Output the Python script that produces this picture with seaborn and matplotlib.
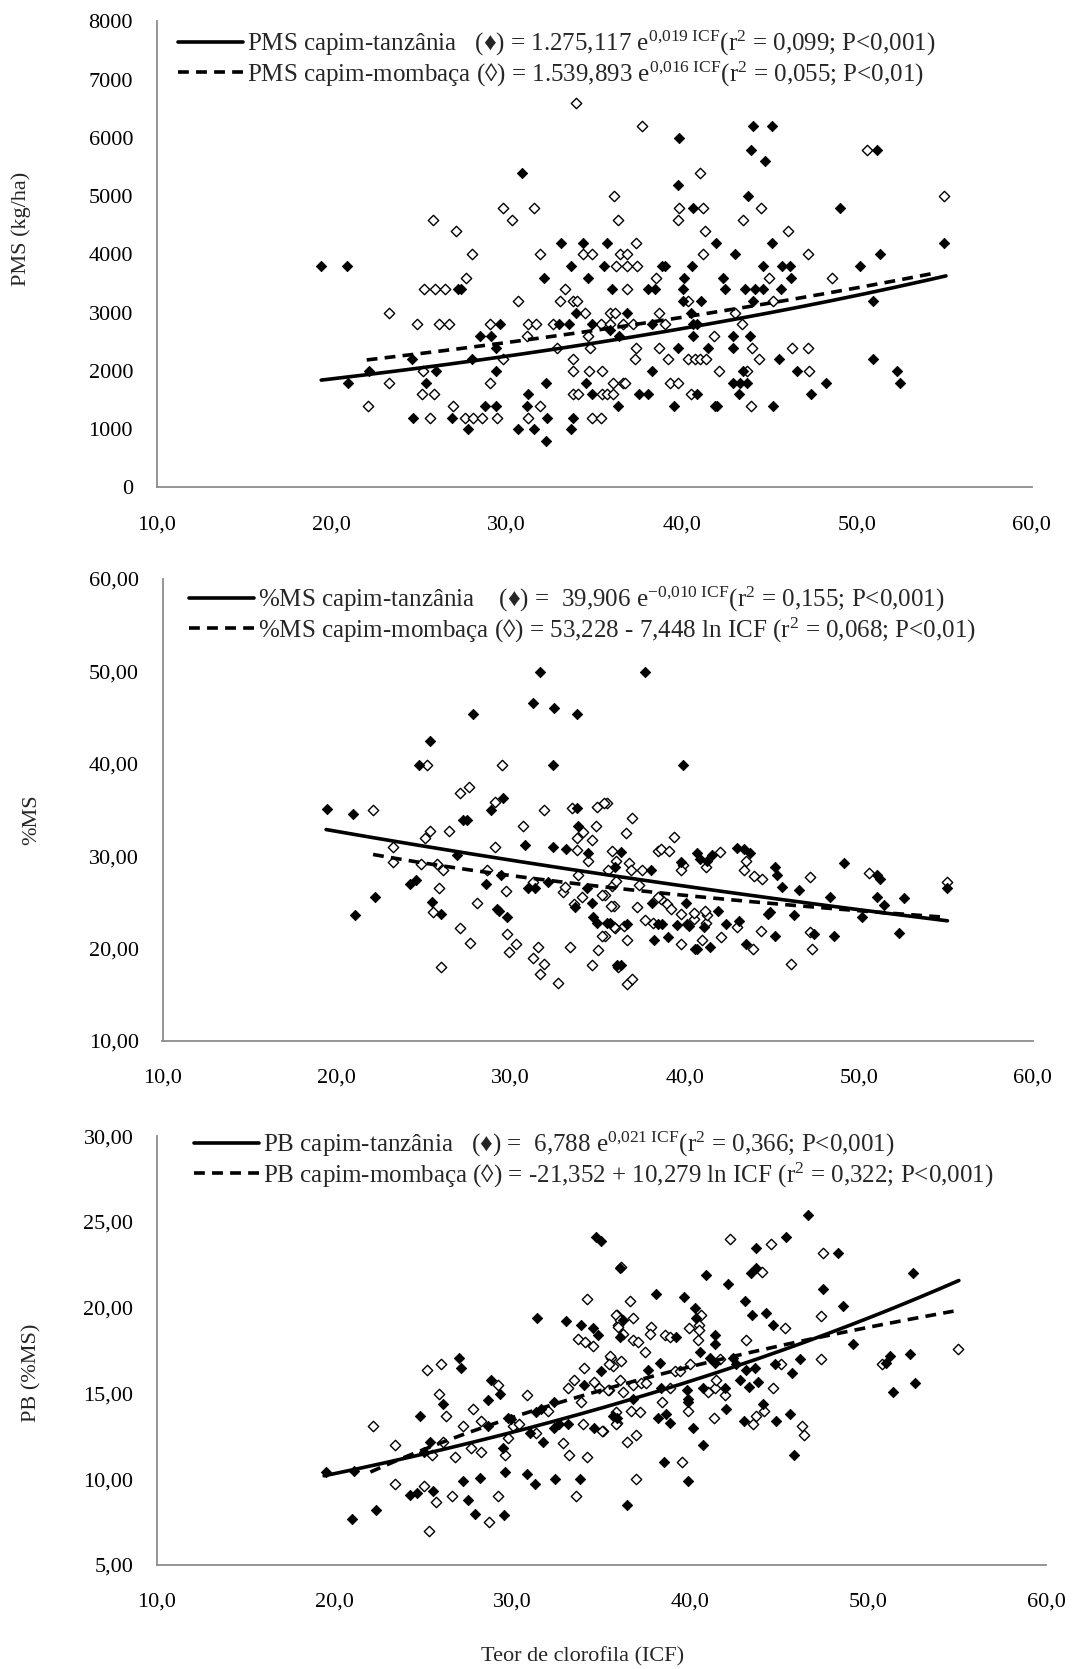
import numpy as np
import pandas as pd
import matplotlib
matplotlib.use("Agg")
import matplotlib.pyplot as plt
import seaborn as sns
from matplotlib.lines import Line2D
from matplotlib.ticker import FuncFormatter

# ---------------- data ----------------
# Panel 1: PMS (kg/ha)
pms_tanz_icf = [30.86, 33.09, 34.34, 35.75, 19.37, 20.86, 33.68, 35.54, 32.15, 34.67, 36.04, 27.24, 27.37,
                33.96, 36.9, 29.62, 32.99, 33.58, 34.86, 28.48, 29.1, 35.9, 36.42, 29.37, 24.57, 28.0, 22.13,
                25.96, 29.37, 20.95, 25.37, 32.25, 34.51, 31.2, 34.86, 37.56, 28.76, 29.37, 31.14, 36.34, 24.67,
                26.86, 32.32, 33.77, 27.77, 30.63, 31.56, 33.68, 32.25,
                39.84, 44.05, 45.18, 43.96, 44.76, 51.14, 39.77, 43.77, 40.63, 49.04, 41.96, 45.18, 54.99, 43.04,
                51.33, 38.85, 39.04, 40.57, 44.66, 45.71, 46.19, 50.19, 40.13, 42.38, 46.23, 38.09, 38.47, 40.09,
                42.47, 43.62, 44.19, 44.66, 45.65, 40.09, 41.08, 44.05, 50.95, 40.53, 38.28, 40.66, 40.85, 40.66,
                42.91, 43.9, 39.81, 41.52, 42.95, 45.56, 50.95, 38.28, 43.48, 46.57, 52.28, 42.95, 43.33, 43.71,
                48.25, 52.47, 38.09, 40.85, 43.29, 47.37, 39.56, 41.9, 42.03, 45.24]
pms_tanz_val = [5400, 4200, 4200, 4200, 3800, 3800, 3800, 3800, 3600, 3600, 3400, 3400, 3400,
                3000, 3000, 2800, 2800, 2800, 2800, 2600, 2600, 2700, 2600, 2400, 2200, 2200, 2000,
                2000, 2000, 1800, 1800, 1800, 1800, 1600, 1600, 1600, 1400, 1400, 1400, 1400, 1200,
                1200, 1200, 1200, 1000, 1000, 1000, 1000, 800,
                6000, 6200, 6200, 5800, 5600, 5800, 5200, 5000, 4800, 4800, 4200, 4200, 4200, 4000,
                4000, 3800, 3800, 3800, 3800, 3800, 3800, 3800, 3600, 3600, 3600, 3400, 3400, 3400,
                3400, 3400, 3400, 3400, 3400, 3200, 3200, 3200, 3200, 3000, 2800, 2800, 2800, 2600,
                2600, 2600, 2400, 2400, 2400, 2200, 2200, 2000, 2000, 2000, 2000, 1800, 1800, 1800,
                1800, 1800, 1600, 1600, 1600, 1600, 1400, 1400, 1400, 1400]
pms_momb_icf = [33.94, 36.15, 36.34, 25.81, 29.77, 31.56, 30.29, 27.09, 28.04, 31.89, 34.34, 34.86, 36.48,
                36.9, 37.37, 36.25, 36.9, 37.43, 27.68, 36.86, 25.28, 25.9, 26.48, 33.33, 30.67, 33.05, 33.8,
                34.04, 23.3, 34.48, 35.9, 36.2, 24.9, 26.15, 26.72, 29.05, 31.2, 31.68, 32.67, 35.39, 35.9,
                36.67, 37.2, 31.14, 34.67, 32.86, 34.76, 37.39, 29.81, 33.81, 37.33, 25.2, 33.81, 34.7, 35.43,
                23.3, 29.05, 36.06, 36.63, 36.76, 25.14, 25.87, 33.81, 34.06, 35.43, 35.71, 36.06, 22.1, 26.95,
                31.89, 25.62, 27.62, 28.1, 28.57, 29.47, 31.24, 34.86, 35.39,
                37.71, 50.57, 41.04, 54.99, 39.84, 41.23, 44.53, 39.77, 43.52, 41.33, 46.09, 41.23, 47.2, 38.53,
                45.01, 48.57, 40.38, 45.2, 38.72, 43.04, 39.04, 43.43, 41.84, 38.72, 44.0, 46.28, 47.2, 39.23,
                40.38, 40.76, 41.04, 41.39, 44.43, 42.13, 43.71, 47.27, 39.33, 39.81, 40.51, 43.94]
pms_momb_val = [6600, 5000, 4600, 4600, 4800, 4800, 4600, 4400, 4000, 4000, 4000, 4000, 4000,
                4000, 4200, 3800, 3800, 3800, 3600, 3400, 3400, 3400, 3400, 3400, 3200, 3200, 3200,
                3200, 3000, 3000, 3000, 3000, 2800, 2800, 2800, 2800, 2800, 2800, 2800, 2800, 2800,
                2800, 2800, 2600, 2600, 2400, 2400, 2400, 2200, 2200, 2200, 2000, 2000, 2000, 2000,
                1800, 1800, 1800, 1800, 1800, 1600, 1600, 1600, 1600, 1600, 1600, 1600, 1400, 1400,
                1400, 1200, 1200, 1200, 1200, 1200, 1200, 1200, 1200,
                6200, 5800, 5400, 5000, 4800, 4800, 4800, 4600, 4600, 4400, 4400, 4000, 4000, 3600,
                3600, 3600, 3200, 3200, 3000, 3000, 2800, 2800, 2600, 2400, 2400, 2400, 2400, 2200,
                2200, 2200, 2200, 2200, 2200, 2000, 2000, 2000, 1800, 1800, 1600, 1400]

# Panel 2: %MS
ms_tanz_icf = [31.69, 31.3, 32.49, 27.85, 33.83, 25.36, 24.73, 32.41, 29.58, 28.85, 19.43, 20.92, 33.79, 27.28,
               27.47, 33.89, 30.82, 32.41, 33.18, 34.46, 26.9, 29.44, 35.99, 24.21, 24.56, 28.56, 31.02, 31.4,
               32.16, 34.37, 22.2, 25.46, 33.7, 34.66, 29.2, 29.35, 29.77, 26.03, 21.05, 34.75, 34.98, 35.71,
               37.72, 39.9, 36.33, 38.05, 39.77, 40.69, 40.88, 41.3, 41.59, 43.02, 43.4, 43.78, 45.22, 45.32,
               45.6, 46.56, 49.14, 51.05, 51.24, 55.07, 48.34, 51.05, 52.62, 51.43, 50.19, 52.29, 48.61, 47.42,
               46.31, 44.78, 44.88, 45.22, 43.5, 43.12, 42.35, 41.91, 41.1, 40.06, 40.6, 40.69, 41.44, 40.15,
               40.25, 39.54, 39.06, 38.7, 38.45, 38.24, 38.14, 36.71, 35.56, 36.14, 36.33]
ms_tanz_val = [49.9, 46.6, 46.0, 45.4, 45.4, 42.5, 39.9, 39.9, 36.3, 35.0, 35.1, 34.5, 35.2, 33.9,
               33.9, 33.3, 31.2, 31.0, 30.8, 30.3, 30.1, 27.9, 28.8, 27.0, 27.4, 27.0, 26.6, 26.6,
               27.2, 26.6, 25.6, 25.0, 24.5, 24.9, 24.3, 24.1, 23.4, 23.7, 23.6, 23.4, 22.8, 22.8,
               49.9, 39.9, 30.4, 28.5, 29.4, 30.3, 29.7, 29.5, 30.1, 30.9, 30.8, 30.3, 28.8, 28.0,
               26.7, 26.3, 29.2, 27.9, 27.5, 26.5, 25.6, 25.6, 25.5, 24.7, 23.4, 21.7, 21.4, 21.6,
               23.6, 23.7, 24.0, 21.4, 20.5, 23.0, 22.7, 24.1, 22.3, 24.9, 20.0, 20.0, 20.2, 22.7,
               22.4, 22.6, 21.3, 22.7, 22.7, 20.9, 24.9, 22.7, 22.8, 18.2, 18.2]
ms_momb_icf = [25.17, 29.52, 27.09, 27.62, 29.1, 22.07, 31.92, 33.54, 34.94, 35.52, 30.73, 34.9, 25.36, 25.11,
               26.48, 34.18, 33.83, 34.69, 23.26, 29.1, 33.79, 34.46, 35.8, 23.26, 24.85, 25.75, 26.13, 28.62,
               33.89, 35.61, 31.3, 33.03, 33.12, 35.42, 25.9, 29.71, 28.08, 33.66, 34.08, 35.94, 25.56, 36.0,
               35.42, 27.09, 29.81, 27.66, 30.34, 29.9, 31.59, 31.3, 33.41, 35.04, 25.98, 31.93, 31.69, 32.74,
               34.69, 36.15,
               35.37, 37.0, 36.61, 39.39, 36.04, 36.8, 36.9, 37.57, 38.45, 38.64, 39.12, 39.92, 39.77, 42.06,
               41.2, 43.5, 43.4, 43.98, 44.45, 47.23, 50.57, 55.07, 47.23, 47.33, 46.14, 44.36, 43.94, 43.02,
               42.1, 41.2, 41.3, 41.15, 40.54, 40.54, 40.98, 39.81, 39.77, 39.0, 39.2, 38.64, 38.45, 38.2,
               37.72, 37.28, 36.67, 36.52, 35.95, 35.28, 35.75, 35.28, 35.85, 36.04, 37.4, 36.71, 37.0]
ms_momb_val = [39.9, 39.9, 36.8, 37.5, 35.9, 35.0, 35.0, 35.2, 35.3, 35.7, 33.3, 33.3, 32.7, 32.0,
               32.7, 32.6, 32.0, 31.7, 31.0, 31.0, 30.7, 29.5, 30.6, 29.4, 29.1, 29.1, 28.5, 28.5,
               27.9, 28.5, 27.2, 26.1, 26.7, 25.8, 26.6, 26.2, 24.9, 24.8, 25.6, 24.6, 23.9, 22.2,
               21.4, 22.2, 21.6, 20.6, 20.5, 19.6, 20.2, 19.0, 20.2, 19.8, 18.0, 18.3, 17.3, 16.3,
               18.2, 18.0,
               35.7, 34.1, 32.5, 32.1, 29.5, 29.2, 28.5, 28.5, 30.6, 30.8, 30.5, 29.0, 28.5, 30.4,
               28.8, 29.5, 28.5, 27.8, 27.5, 27.7, 28.2, 27.2, 21.8, 20.0, 18.3, 21.9, 20.0, 22.3,
               21.3, 22.8, 23.6, 24.1, 23.2, 23.8, 20.9, 20.5, 23.7, 24.8, 24.3, 25.4, 25.6, 22.8,
               23.1, 24.5, 20.9, 22.4, 22.3, 21.4, 24.6, 25.8, 26.8, 27.3, 26.9, 16.2, 16.7]

# Panel 3: PB (%MS)
pb_tanz_icf = [34.69, 34.97, 36.06, 31.37, 33.0, 33.85, 34.5, 34.78, 36.06, 27.0, 27.09, 34.97, 34.03, 28.78,
               29.29, 28.59, 26.06, 32.35, 31.31, 31.6, 35.87, 24.8, 28.59, 29.72, 29.9, 31.0, 32.35, 32.63,
               33.09, 34.56, 31.69, 25.37, 24.99, 29.47, 19.49, 21.09, 27.22, 28.18, 29.59, 30.81, 31.28, 32.38,
               33.81, 24.24, 24.65, 25.5, 27.47, 27.9, 29.49, 22.31, 20.99,
               46.62, 43.71, 45.35, 48.31, 40.9, 42.12, 43.43, 43.71, 47.43, 52.5, 38.05, 39.62, 40.24, 40.34,
               43.06, 43.49, 44.28, 44.65, 48.6, 36.2, 39.17, 41.37, 41.37, 37.62, 38.27, 40.53, 41.09, 41.37,
               42.4, 42.59, 43.15, 43.62, 44.75, 46.15, 45.74, 38.37, 39.81, 39.87, 40.71, 41.93, 42.81, 43.3,
               43.81, 36.77, 35.65, 38.18, 38.65, 38.87, 39.87, 40.15, 41.99, 43.0, 44.1, 44.8, 45.59, 40.71,
               38.5, 39.87, 36.44, 45.82, 49.16, 51.22, 50.99, 52.35, 51.41, 52.63]
pb_tanz_val = [24.1, 23.9, 22.3, 19.4, 19.2, 19.0, 18.8, 18.4, 18.3, 17.1, 16.5, 16.3, 15.5, 15.8,
               15.0, 14.6, 14.4, 14.5, 13.9, 14.1, 13.6, 13.7, 13.1, 13.6, 13.5, 12.7, 13.0, 13.2,
               13.2, 13.0, 12.2, 12.2, 11.6, 11.8, 10.4, 10.5, 9.9, 10.1, 10.4, 10.3, 9.7, 10.0,
               10.0, 9.1, 9.2, 9.3, 8.8, 8.0, 7.9, 8.2, 7.7,
               25.4, 23.5, 24.1, 23.2, 21.9, 21.4, 22.0, 22.3, 21.1, 22.0, 20.8, 20.6, 20.0, 19.4,
               20.4, 19.6, 19.7, 19.0, 20.1, 19.3, 18.3, 18.4, 17.9, 16.4, 16.8, 17.4, 17.1, 16.8,
               17.1, 16.7, 16.4, 16.5, 16.7, 17.0, 16.2, 15.3, 15.2, 14.7, 15.3, 15.3, 15.8, 15.4,
               15.7, 14.7, 13.7, 13.6, 13.8, 13.3, 14.5, 13.0, 14.1, 13.4, 14.4, 13.4, 13.8, 12.0,
               11.0, 9.9, 8.5, 11.4, 17.9, 17.2, 16.8, 17.3, 15.1, 15.6]
pb_momb_icf = [34.18, 33.66, 34.09, 34.5, 35.87, 35.91, 25.97, 25.16, 35.53, 35.62, 34.0, 33.47, 33.09, 34.6,
               34.88, 35.44, 29.19, 25.87, 30.81, 27.75, 26.25, 31.97, 35.82, 35.87, 33.85, 33.97, 22.16, 28.22,
               27.19, 30.0, 30.38, 31.31, 35.07, 29.72, 32.81, 26.06, 23.4, 27.66, 28.22, 25.46, 26.77, 29.59,
               33.19, 34.18, 23.4, 25.03, 25.68, 26.57, 29.19, 33.56, 28.69, 25.31,
               42.21, 44.52, 47.43, 36.12, 44.05, 36.62, 40.6, 40.5, 40.5, 45.3, 47.32, 35.83, 36.02, 36.77,
               35.93, 36.21, 36.77, 37.05, 37.8, 37.71, 38.56, 38.84, 39.92, 40.43, 43.11, 37.43, 35.45, 35.42,
               36.12, 39.12, 39.4, 39.96, 41.65, 45.12, 47.32, 36.02, 36.77, 37.24, 37.52, 36.21, 35.36, 38.84,
               41.0, 41.37, 41.46, 41.93, 44.62, 36.68, 37.15, 35.83, 35.0, 38.42, 39.87, 41.31, 43.53, 43.71,
               44.13, 46.25, 46.38, 36.44, 36.92, 39.55, 36.92, 50.75, 55.07]
pb_momb_val = [20.5, 18.2, 18.0, 17.8, 19.6, 19.0, 16.7, 16.4, 17.1, 16.6, 16.5, 15.8, 15.3, 15.7,
               15.3, 15.2, 15.5, 15.0, 14.9, 14.1, 13.7, 14.0, 13.9, 13.3, 14.5, 13.2, 13.1, 13.4,
               13.1, 13.1, 13.2, 12.7, 12.8, 12.4, 12.1, 12.2, 12.0, 11.8, 11.6, 11.4, 11.3, 11.4,
               11.4, 11.3, 9.7, 9.6, 8.7, 9.0, 9.0, 9.0, 7.5, 7.0,
               24.0, 23.7, 23.2, 22.4, 22.1, 20.4, 19.6, 19.0, 18.7, 18.8, 19.5, 19.6, 19.3, 19.4,
               18.9, 18.5, 18.1, 18.0, 18.9, 18.5, 18.4, 18.3, 18.8, 18.1, 18.1, 17.4, 17.2, 16.7,
               16.9, 16.3, 16.3, 16.7, 17.0, 16.7, 17.0, 15.8, 15.5, 15.6, 15.6, 15.1, 15.2, 15.3,
               15.1, 15.3, 15.8, 14.9, 15.3, 14.0, 13.9, 13.2, 12.8, 14.5, 14.0, 13.6, 13.2, 13.7,
               14.0, 13.1, 12.6, 12.2, 12.6, 11.0, 10.0, 16.7, 17.6]

# Fitted models reported in the legends: (a, b, kind) ; exp: a*e^(b x) ; log: a + b ln x
pms_fit_tanz = (1275.117, 0.019, "exp")
pms_fit_momb = (1539.893, 0.016, "exp")
ms_fit_tanz = (39.906, -0.010, "exp")
ms_fit_momb = (53.228, -7.448, "log")
pb_fit_tanz = (6.788, 0.021, "exp")
pb_fit_momb = (-21.352, 10.279, "log")
# ICF range covered by each fitted curve
fit_range_tanz = [(19.4, 55.1), (19.4, 55.1), (19.4, 55.1)]
fit_range_momb = [(22.0, 54.6), (22.1, 55.0), (22.0, 54.8)]

legend_texts = [
    (r"PMS capim-tanzânia   (♦) = 1.275,117 e$^{\mathregular{0{,}019\ ICF}}$(r$^{\mathregular{2}}$ = 0,099; P<0,001)",
     r"PMS capim-mombaça (◊) = 1.539,893 e$^{\mathregular{0{,}016\ ICF}}$(r$^{\mathregular{2}}$ = 0,055; P<0,01)"),
    (r"%MS capim-tanzânia    (♦) =  39,906 e$^{\mathregular{-0{,}010\ ICF}}$(r$^{\mathregular{2}}$ = 0,155; P<0,001)",
     r"%MS capim-mombaça (◊) = 53,228 - 7,448 ln ICF (r$^{\mathregular{2}}$ = 0,068; P<0,01)"),
    (r"PB capim-tanzânia   (♦) =  6,788 e$^{\mathregular{0{,}021\ ICF}}$(r$^{\mathregular{2}}$ = 0,366; P<0,001)",
     r"PB capim-mombaça (◊) = -21,352 + 10,279 ln ICF (r$^{\mathregular{2}}$ = 0,322; P<0,001)"),
]
y_labels = ["PMS (kg/ha)", "%MS", "PB (%MS)"]
x_label = "Teor de clorofila (ICF)"
x_ticks = [10, 20, 30, 40, 50, 60]
y_ticks = [list(range(0, 8001, 1000)), [10, 20, 30, 40, 50, 60], [5, 10, 15, 20, 25, 30]]
y_fmt = ["{:.0f}", "{:.2f}", "{:.2f}"]

# ---------------- style ----------------
sns.set_theme(style="white")
plt.rcParams["font.family"] = ["Liberation Serif", "DejaVu Serif"]
plt.rcParams["mathtext.fontset"] = "custom"
plt.rcParams["mathtext.rm"] = "Liberation Serif"
plt.rcParams["mathtext.it"] = "Liberation Serif:italic"
plt.rcParams["axes.unicode_minus"] = False

W, H = 1076, 1669
fig = plt.figure(figsize=(W / 100, H / 100), dpi=100)
# axes boxes in pixels: left, right, top, bottom
boxes = [(156.7, 1031.7, 21.5, 487.5), (162.5, 1032.7, 578.7, 1041.0), (157.0, 1046.0, 1136.3, 1565.0)]
legend_pos = [(178, 29), (189, 585), (194, 1130)]
ylab_pos = [(21, 229), (32, 820), (32, 1373)]

panels = [
    (pms_tanz_icf, pms_tanz_val, pms_momb_icf, pms_momb_val, pms_fit_tanz, pms_fit_momb),
    (ms_tanz_icf, ms_tanz_val, ms_momb_icf, ms_momb_val, ms_fit_tanz, ms_fit_momb),
    (pb_tanz_icf, pb_tanz_val, pb_momb_icf, pb_momb_val, pb_fit_tanz, pb_fit_momb),
]


def model(coef, x):
    a, b, kind = coef
    return a * np.exp(b * x) if kind == "exp" else a + b * np.log(x)


gray = "#8c8c8c"
fs = 16
lfs = 18
for i, (tx, ty, mx, my, ft, fm) in enumerate(panels):
    l, r, t, b = boxes[i]
    ax = fig.add_axes([l / W, 1 - b / H, (r - l) / W, (b - t) / H])
    df_t = pd.DataFrame({"ICF": tx, "v": ty})
    df_m = pd.DataFrame({"ICF": mx, "v": my})
    sns.scatterplot(data=df_m, x="ICF", y="v", ax=ax, marker="D", s=28, facecolor="white",
                    edgecolor="black", linewidth=1.0, zorder=3)
    sns.scatterplot(data=df_t, x="ICF", y="v", ax=ax, marker="D", s=28, color="black",
                    edgecolor="black", linewidth=0.6, zorder=4)
    xt = np.linspace(*fit_range_tanz[i], 200)
    xm = np.linspace(*fit_range_momb[i], 200)
    sns.lineplot(x=xt, y=model(ft, xt), ax=ax, color="black", lw=2.6, zorder=5)
    sns.lineplot(x=xm, y=model(fm, xm), ax=ax, color="black", lw=2.6, zorder=5)
    ax.lines[-1].set_dashes((3, 2))

    ax.set_xlim(10, 60)
    ax.set_ylim(y_ticks[i][0], y_ticks[i][-1])
    ax.set_xticks(x_ticks)
    ax.set_yticks(y_ticks[i])
    ax.xaxis.set_major_formatter(FuncFormatter(lambda v, p: f"{v:.1f}".replace(".", ",")))
    fmt = y_fmt[i]
    ax.yaxis.set_major_formatter(FuncFormatter(lambda v, p, fmt=fmt: fmt.format(v).replace(".", ",")))
    ax.set_xlabel("")
    ax.set_ylabel("")
    for s in ["top", "right"]:
        ax.spines[s].set_visible(False)
    for s in ["left", "bottom"]:
        ax.spines[s].set_color(gray)
        ax.spines[s].set_linewidth(1.3)
    ax.tick_params(axis="both", direction="out", length=7, width=1.0, color=gray,
                   labelsize=fs, labelcolor="black")
    ax.tick_params(axis="x", pad=13)
    ax.tick_params(axis="y", pad=10)
    ax.set_facecolor("white")

    handles = [Line2D([0], [0], color="black", lw=2.6),
               Line2D([0], [0], color="black", lw=2.6, dashes=(3, 2))]
    lx, ly = legend_pos[i]
    ax.legend(handles, list(legend_texts[i]), loc="upper left",
              bbox_to_anchor=(lx / W, 1 - ly / H), bbox_transform=fig.transFigure,
              frameon=False, fontsize=lfs, handlelength=2.6, handletextpad=0.15,
              labelspacing=0.05, borderpad=0, borderaxespad=0)

    yx, yy = ylab_pos[i]
    fig.text(yx / W, 1 - yy / H, y_labels[i], rotation=90, ha="center", va="center", fontsize=fs)

fig.text(583 / W, 1 - 1657 / H, x_label, ha="center", va="center", fontsize=fs)
fig.savefig("out.png", dpi=100, facecolor="white")
